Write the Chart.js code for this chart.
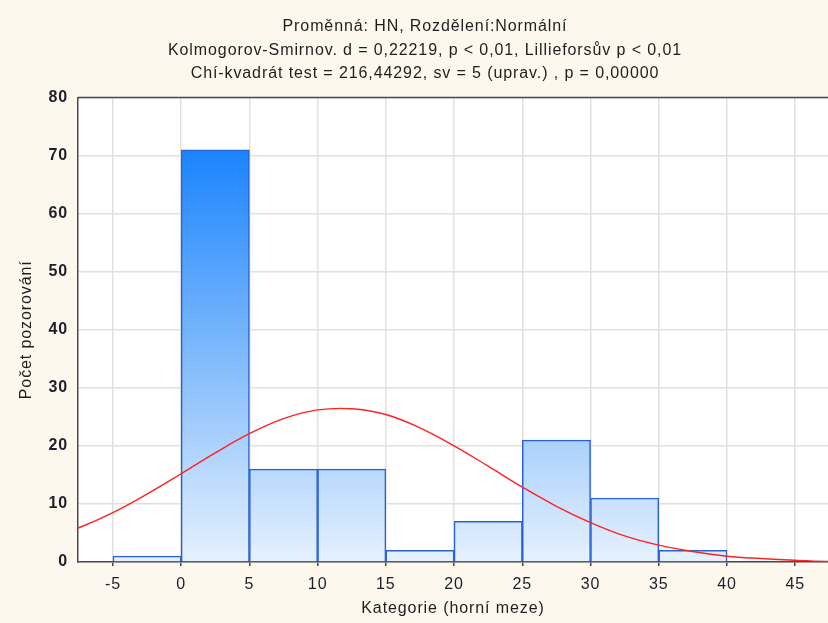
<!DOCTYPE html>
<html>
<head>
<meta charset="utf-8">
<script src="https://cdn.jsdelivr.net/npm/chart.js@4.4.1/dist/chart.umd.min.js"></script>
<style>
    html, body { margin: 0; padding: 0; background: #fdf8ee; overflow: hidden; }
    #wrap { width: 828px; height: 623px; }
</style>
</head>
<body>
<div id="wrap"><canvas id="histChart" width="828" height="623"></canvas></div>
<script>
        // Histogram data (bin centers, counts) and fitted normal curve
        const binCenters = [-2.5, 2.5, 7.5, 12.5, 17.5, 22.5, 27.5, 32.5, 37.5];
        const counts = [1, 71, 16, 16, 2, 7, 21, 11, 2];
        const curveX = [-10, -7.5, -5, -2.5, 0, 2.5, 5, 7.5, 10, 12.5, 15, 17.5, 20, 22.5, 25, 27.5, 30, 32.5, 35, 37.5, 40, 42.5, 45, 47.5, 50];
        const curveY = [3.9, 5.9, 8.5, 11.7, 15.2, 18.8, 22.1, 24.7, 26.2, 26.4, 25.4, 23.1, 20.0, 16.5, 12.9, 9.6, 6.8, 4.5, 2.9, 1.8, 1.0, 0.6, 0.3, 0.1, 0.07];
        const xTicks = [-5, 0, 5, 10, 15, 20, 25, 30, 35, 40, 45];
        const yTicks = [0, 10, 20, 30, 40, 50, 60, 70, 80];
        const titleLines = [
            'Proměnná: HN, Rozdělení:Normální',
            'Kolmogorov-Smirnov. d = 0,22219, p < 0,01, Lillieforsův p < 0,01',
            'Chí-kvadrát test = 216,44292, sv = 5 (uprav.) , p = 0,00000'
        ];

        const FONT = '"Liberation Sans", Arial, sans-serif';

        // white plot area + dark frame, wider letter spacing like the original
        const plotFrame = {
            id: 'plotFrame',
            beforeDraw(chart) {
                const { ctx, chartArea: a } = chart;
                ctx.letterSpacing = '0.9px';
                ctx.save();
                ctx.fillStyle = '#ffffff';
                ctx.fillRect(a.left, a.top, a.right - a.left, a.bottom - a.top);
                ctx.restore();
            },
            afterDraw(chart) {
                const { ctx, chartArea: a } = chart;
                ctx.save();
                ctx.strokeStyle = '#4a4a4a';
                ctx.lineWidth = 1.5;
                ctx.beginPath();
                ctx.moveTo(a.left, a.top);
                ctx.lineTo(a.right, a.top);
                ctx.stroke();
                ctx.restore();
            }
        };

        function barGradient(context) {
            const chart = context.chart;
            const { ctx, chartArea, scales } = chart;
            if (!chartArea) return '#9ccbfb';
            const y0 = scales.y.getPixelForValue(0);
            const y1 = scales.y.getPixelForValue(Math.max(...counts));
            const g = ctx.createLinearGradient(0, y0, 0, y1);
            g.addColorStop(0, '#e6f1fd');
            g.addColorStop(0.5, '#80bafc');
            g.addColorStop(1, '#1a84fe');
            return g;
        }

        const ctx = document.getElementById('histChart').getContext('2d');
        new Chart(ctx, {
            type: 'bar',
            data: {
                datasets: [{
                    type: 'line',
                    data: curveX.map((x, i) => ({ x: x, y: curveY[i] })),
                    borderColor: '#ff2222',
                    borderWidth: 1.4,
                    pointRadius: 0,
                    tension: 0.4,
                    fill: false,
                    order: 0
                }, {
                    type: 'bar',
                    data: binCenters.map((x, i) => ({ x: x, y: counts[i] })),
                    backgroundColor: barGradient,
                    borderColor: '#2a62d4',
                    borderWidth: 1.5,
                    barPercentage: 1,
                    categoryPercentage: 1,
                    order: 1
                }]
            },
            options: {
                responsive: false,
                animation: false,
                layout: { padding: { left: 22, right: 0, top: 0, bottom: 0 } },
                plugins: {
                    legend: { display: false },
                    tooltip: { enabled: false },
                    title: {
                        display: true,
                        text: titleLines,
                        color: '#1e1e1e',
                        font: { family: FONT, size: 16, weight: 'normal', lineHeight: 1.47 },
                        padding: { top: 15, bottom: 12 }
                    }
                },
                scales: {
                    x: {
                        type: 'linear',
                        min: -7.56,
                        max: 47.4,
                        offset: false,
                        afterBuildTicks: s => { s.ticks = xTicks.map(v => ({ value: v })); },
                        afterFit: s => { s.height = 61; },
                        grid: {
                            offset: false,
                            color: '#e0e0e0',
                            lineWidth: 1.5,
                            drawTicks: true,
                            tickLength: 4,
                            tickColor: '#444'
                        },
                        border: { color: '#4a4a4a', width: 1.5 },
                        ticks: {
                            padding: 9,
                            color: '#1e1e2a',
                            font: { family: FONT, size: 16 },
                            maxRotation: 0
                        },
                        title: {
                            display: true,
                            text: 'Kategorie (horní meze)',
                            color: '#1e1e1e',
                            font: { family: FONT, size: 16 },
                            padding: { top: 0, bottom: 5 }
                        }
                    },
                    y: {
                        min: 0,
                        max: 80,
                        afterBuildTicks: s => { s.ticks = yTicks.map(v => ({ value: v })); },
                        afterFit: s => { s.width = 56; },
                        grid: {
                            color: '#e0e0e0',
                            lineWidth: 1.5,
                            drawTicks: false
                        },
                        border: { color: '#4a4a4a', width: 1.5 },
                        ticks: {
                            padding: 10,
                            color: '#1e1e2a',
                            font: { family: FONT, size: 16, weight: 'bold' }
                        },
                        title: {
                            display: true,
                            text: 'Počet pozorování',
                            color: '#1e1e1e',
                            font: { family: FONT, size: 16 },
                            padding: { top: -5, bottom: 0 }
                        }
                    }
                }
            },
            plugins: [plotFrame]
        });
</script>
</body>
</html>
